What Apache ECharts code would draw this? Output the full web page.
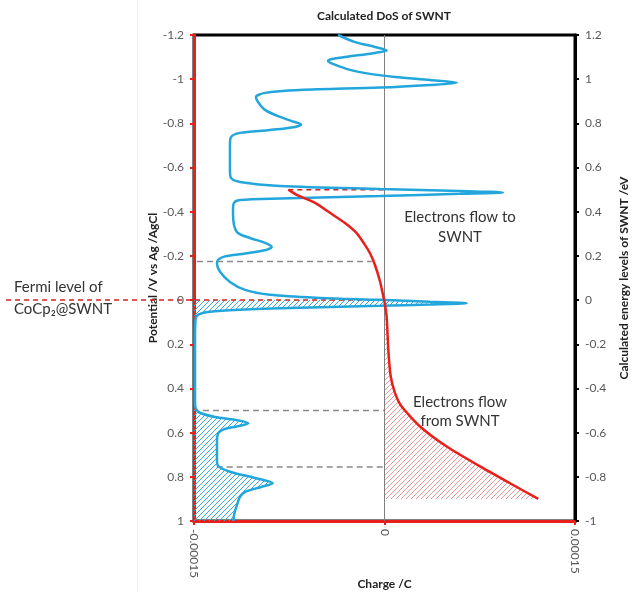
<!DOCTYPE html>
<html><head><meta charset="utf-8">
<script src="https://cdn.jsdelivr.net/npm/echarts@6/dist/echarts.min.js"></script>
<style>html,body{margin:0;padding:0;background:#fff}#c{width:633px;height:592px}</style>
</head><body><div id="c"></div>
<script>
// Calculated DoS of SWNT (blue), x in Coulomb-scale units, y = potential (V)
const dosX = [-3.66e-5,-2.32e-5,-0.75e-5,0.17e-5,-0.75e-5,-3.11e-5,-4.29e-5,-4.45e-5,-4.06e-5,-2.72e-5,
  -1.14e-5,0.83e-5,3.58e-5,5.69e-5,3.58e-5,-0.35e-5,-6.65e-5,-9.41e-5,-10.12e-5,-9.96e-5,
  -9.41e-5,-8.23e-5,-7.05e-5,-6.57e-5,-7.05e-5,-9.02e-5,-11.38e-5,-12.09e-5,-12.17e-5,-12.17e-5,
  -12.09e-5,-11.38e-5,-8.23e-5,-0.35e-5,5.94e-5,9.33e-5,5.94e-5,-0.35e-5,-8.23e-5,-11.38e-5,
  -11.85e-5,-11.93e-5,-11.85e-5,-11.54e-5,-10.59e-5,-9.41e-5,-8.88e-5,-9.33e-5,-10.98e-5,-12.56e-5,
  -13.11e-5,-13.19e-5,-12.95e-5,-12.17e-5,-10.98e-5,-9.02e-5,-5.08e-5,-0.35e-5,3.58e-5,6.47e-5,
  3.58e-5,-0.35e-5,-6.65e-5,-11.38e-5,-13.74e-5,-14.69e-5,-14.88e-5,-14.92e-5,-14.92e-5,-14.88e-5,
  -14.53e-5,-13.35e-5,-11.77e-5,-10.72e-5,-11.38e-5,-12.56e-5,-13.11e-5,-13.19e-5,-13.19e-5,-13.11e-5,
  -12.17e-5,-10.20e-5,-8.80e-5,-9.65e-5,-10.98e-5,-11.38e-5,-11.61e-5,-11.81e-5,-11.91e-5];
const dosY = [-1.2,-1.168,-1.146,-1.130,-1.119,-1.100,-1.089,-1.082,-1.069,-1.042,
  -1.024,-1.010,-0.996,-0.984,-0.974,-0.962,-0.951,-0.938,-0.919,-0.897,
  -0.861,-0.829,-0.806,-0.795,-0.784,-0.770,-0.757,-0.738,-0.702,-0.589,
  -0.553,-0.535,-0.517,-0.503,-0.494,-0.487,-0.481,-0.471,-0.460,-0.453,
  -0.440,-0.408,-0.340,-0.304,-0.281,-0.259,-0.241,-0.227,-0.211,-0.198,
  -0.182,-0.164,-0.128,-0.082,-0.046,-0.024,-0.010,-0.001,0.008,0.014,
  0.020,0.026,0.035,0.044,0.053,0.067,0.090,0.180,0.452,0.488,
  0.510,0.529,0.542,0.557,0.569,0.583,0.605,0.646,0.723,0.750,
  0.777,0.805,0.829,0.845,0.868,0.891,0.927,0.963,1.0];
// Measured charge (red)
const chargeX = [-7.57e-5,-6.91e-5,-5.47e-5,-4.29e-5,-3.11e-5,-2.19e-5,-1.54e-5,-1.14e-5,-0.75e-5,-0.35e-5,
  -0.09e-5,0,0.17e-5,0.30e-5,0.49e-5,0.83e-5,1.35e-5,2.80e-5,4.90e-5,7.52e-5,9.88e-5,12.11e-5];
const chargeY = [-0.5,-0.476,-0.440,-0.395,-0.349,-0.303,-0.250,-0.212,-0.159,-0.084,
  -0.016,0.008,0.075,0.225,0.346,0.421,0.482,0.572,0.663,0.753,0.829,0.9];
// axis ranges
const xRange = [-0.00015, 0.00015];
const xTicks = [-0.00015, 0, 0.00015];
const potRange = [-1.2, 1];
const energyRange = [-1, 1.2];
const tickStep = 0.2;
// reference lines
const grayDashY = [-0.175, 0.5, 0.755];
const grayDashX0 = [-14.76e-5, -14.29e-5, -13.21e-5];
const grayDashX1 = [-1.01e-5, 0, 0];
const redDashY = [-0.5, 0];
const redDashX0 = [-7.57e-5, -29.8e-5];
const redDashX1 = [0, 0];

const FONT = 'Lato, "Open Sans", sans-serif';
const BLUE = '#22a6dc', RED = '#e8201c';

function hatch(color){
  const s = 5, c = document.createElement('canvas'); c.width = s; c.height = s;
  const g = c.getContext('2d'); g.strokeStyle = color; g.lineWidth = 1;
  g.beginPath();
  g.moveTo(0, s); g.lineTo(s, 0);
  g.moveTo(-1, 1); g.lineTo(1, -1);
  g.moveTo(s - 1, s + 1); g.lineTo(s + 1, s - 1);
  g.stroke();
  return c;
}
const blueHatch = hatch('#3aa9d8');
const redHatch = hatch('#e79a9a');

const dosPts = dosX.map((x, i) => [x, dosY[i]]);
const chargePts = chargeX.map((x, i) => [x, chargeY[i]]);
const blueFill = [[xRange[0], 0]].concat(dosPts.filter(p => p[1] >= -0.002)).concat([[xRange[0], potRange[1]]]);
const redPart = chargePts.filter(p => p[0] >= 0);
const redFill = redPart.concat([[0, redPart[redPart.length - 1][1]]]);

function polySeries(pts, img){
  return {type: 'custom', silent: true, z: 1, data: [0],
    renderItem: (params, api) => ({type: 'polygon',
      shape: {points: pts.map(p => api.coord(p))},
      style: {fill: {image: img, repeat: 'repeat'}, stroke: null}})};
}
function seg(x0, y0, x1, y1, color, dash, w){
  return {type: 'custom', silent: true, z: 3, data: [0],
    renderItem: (params, api) => {
      const a = api.coord([x0, y0]), b = api.coord([x1, y1]);
      return {type: 'line', shape: {x1: a[0], y1: a[1], x2: b[0], y2: b[1]},
        style: {stroke: color, lineWidth: w, lineDash: dash}};
    }};
}

const series = [
  polySeries(blueFill, blueHatch),
  polySeries(redFill, redHatch),
  seg(0, potRange[0], 0, potRange[1], '#7f7f7f', null, 1),
];
grayDashY.forEach((y, i) => series.push(seg(grayDashX0[i], y, grayDashX1[i], y, '#8a8a8a', [6, 4], 1.5)));
redDashY.forEach((y, i) => series.push(seg(redDashX0[i], y, redDashX1[i], y, '#d42020', [5, 4], 1.5)));
series.push({type: 'line', data: dosPts, symbol: 'none', smooth: 0.3, z: 5,
  lineStyle: {color: BLUE, width: 2.5}});
series.push({type: 'line', data: chargePts, symbol: 'none', smooth: 0.2, z: 6,
  lineStyle: {color: RED, width: 2.5}});

const chart = echarts.init(document.getElementById('c'), null, {renderer: 'canvas'});
chart.setOption({
  animation: false,
  backgroundColor: '#fff',
  grid: {left: 194, right: 58, top: 35, bottom: 71, show: true, borderColor: '#000', borderWidth: 3,
    containLabel: false, outerBoundsMode: 'none'},
  xAxis: {type: 'value', min: xRange[0], max: xRange[1], interval: 0.00015,
    name: 'Charge /C', nameLocation: 'middle', nameGap: 57, nameMoveOverlap: false,
    nameTextStyle: {fontFamily: FONT, fontWeight: 'bold', fontSize: 12, color: '#222'},
    axisLine: {onZero: false, lineStyle: {color: RED, width: 3}},
    axisTick: {lineStyle: {color: RED, width: 2}, length: 4},
    splitLine: {show: false},
    axisLabel: {rotate: -90, margin: 8, fontFamily: FONT, fontSize: 12, color: '#595959',
      formatter: v => { const t = xTicks.find(k => Math.abs(k - v) < 1e-9); return t === undefined ? '' : String(t); }}},
  yAxis: [
    {type: 'value', inverse: true, min: potRange[0], max: potRange[1], interval: tickStep, position: 'left',
      name: 'Potential /V vs Ag /AgCl', nameLocation: 'middle', nameRotate: 90, nameGap: 35, nameMoveOverlap: false,
      nameTextStyle: {fontFamily: FONT, fontWeight: 'bold', fontSize: 12, color: '#222'},
      axisLine: {show: true, onZero: false, lineStyle: {color: RED, width: 3}},
      axisTick: {show: true, lineStyle: {color: RED, width: 2}, length: 4},
      splitLine: {show: false},
      axisLabel: {margin: 10, fontFamily: FONT, fontSize: 12, color: '#595959'}},
    {type: 'value', min: energyRange[0], max: energyRange[1], interval: tickStep, position: 'right',
      name: 'Calculated energy levels of SWNT /eV', nameLocation: 'middle', nameRotate: 90, nameGap: 43, nameMoveOverlap: false,
      nameTextStyle: {fontFamily: FONT, fontWeight: 'bold', fontSize: 12, color: '#222'},
      axisLine: {show: true, onZero: false, lineStyle: {color: '#000', width: 3}},
      axisTick: {show: true, lineStyle: {color: '#000', width: 2}, length: 4},
      splitLine: {show: false},
      axisLabel: {margin: 10, fontFamily: FONT, fontSize: 12, color: '#595959'}}
  ],
  graphic: [
    {type: 'line', silent: true, z: -1, shape: {x1: 137.5, y1: 0, x2: 137.5, y2: 592}, style: {stroke: '#efefef', lineWidth: 1}},
    {type: 'text', x: 384, y: 16, style: {text: 'Calculated DoS of SWNT', font: 'bold 12px ' + FONT, fill: '#222', textAlign: 'center', textVerticalAlign: 'middle'}},
    {type: 'text', x: 14, y: 287, style: {text: 'Fermi level of', font: '15px ' + FONT, fill: '#333', textAlign: 'left', textVerticalAlign: 'middle'}},
    {type: 'text', x: 14, y: 309, style: {text: 'CoCp\u2082@SWNT', font: '15px ' + FONT, fill: '#333', textAlign: 'left', textVerticalAlign: 'middle'}},
    {type: 'text', x: 460, y: 217, style: {text: 'Electrons flow to', font: '15px ' + FONT, fill: '#333', textAlign: 'center', textVerticalAlign: 'middle'}},
    {type: 'text', x: 460, y: 237, style: {text: 'SWNT', font: '15px ' + FONT, fill: '#333', textAlign: 'center', textVerticalAlign: 'middle'}},
    {type: 'text', x: 460, y: 402, style: {text: 'Electrons flow', font: '15px ' + FONT, fill: '#333', textAlign: 'center', textVerticalAlign: 'middle'}},
    {type: 'text', x: 460, y: 421, style: {text: 'from SWNT', font: '15px ' + FONT, fill: '#333', textAlign: 'center', textVerticalAlign: 'middle'}}
  ],
  series: series
});
</script></body></html>
